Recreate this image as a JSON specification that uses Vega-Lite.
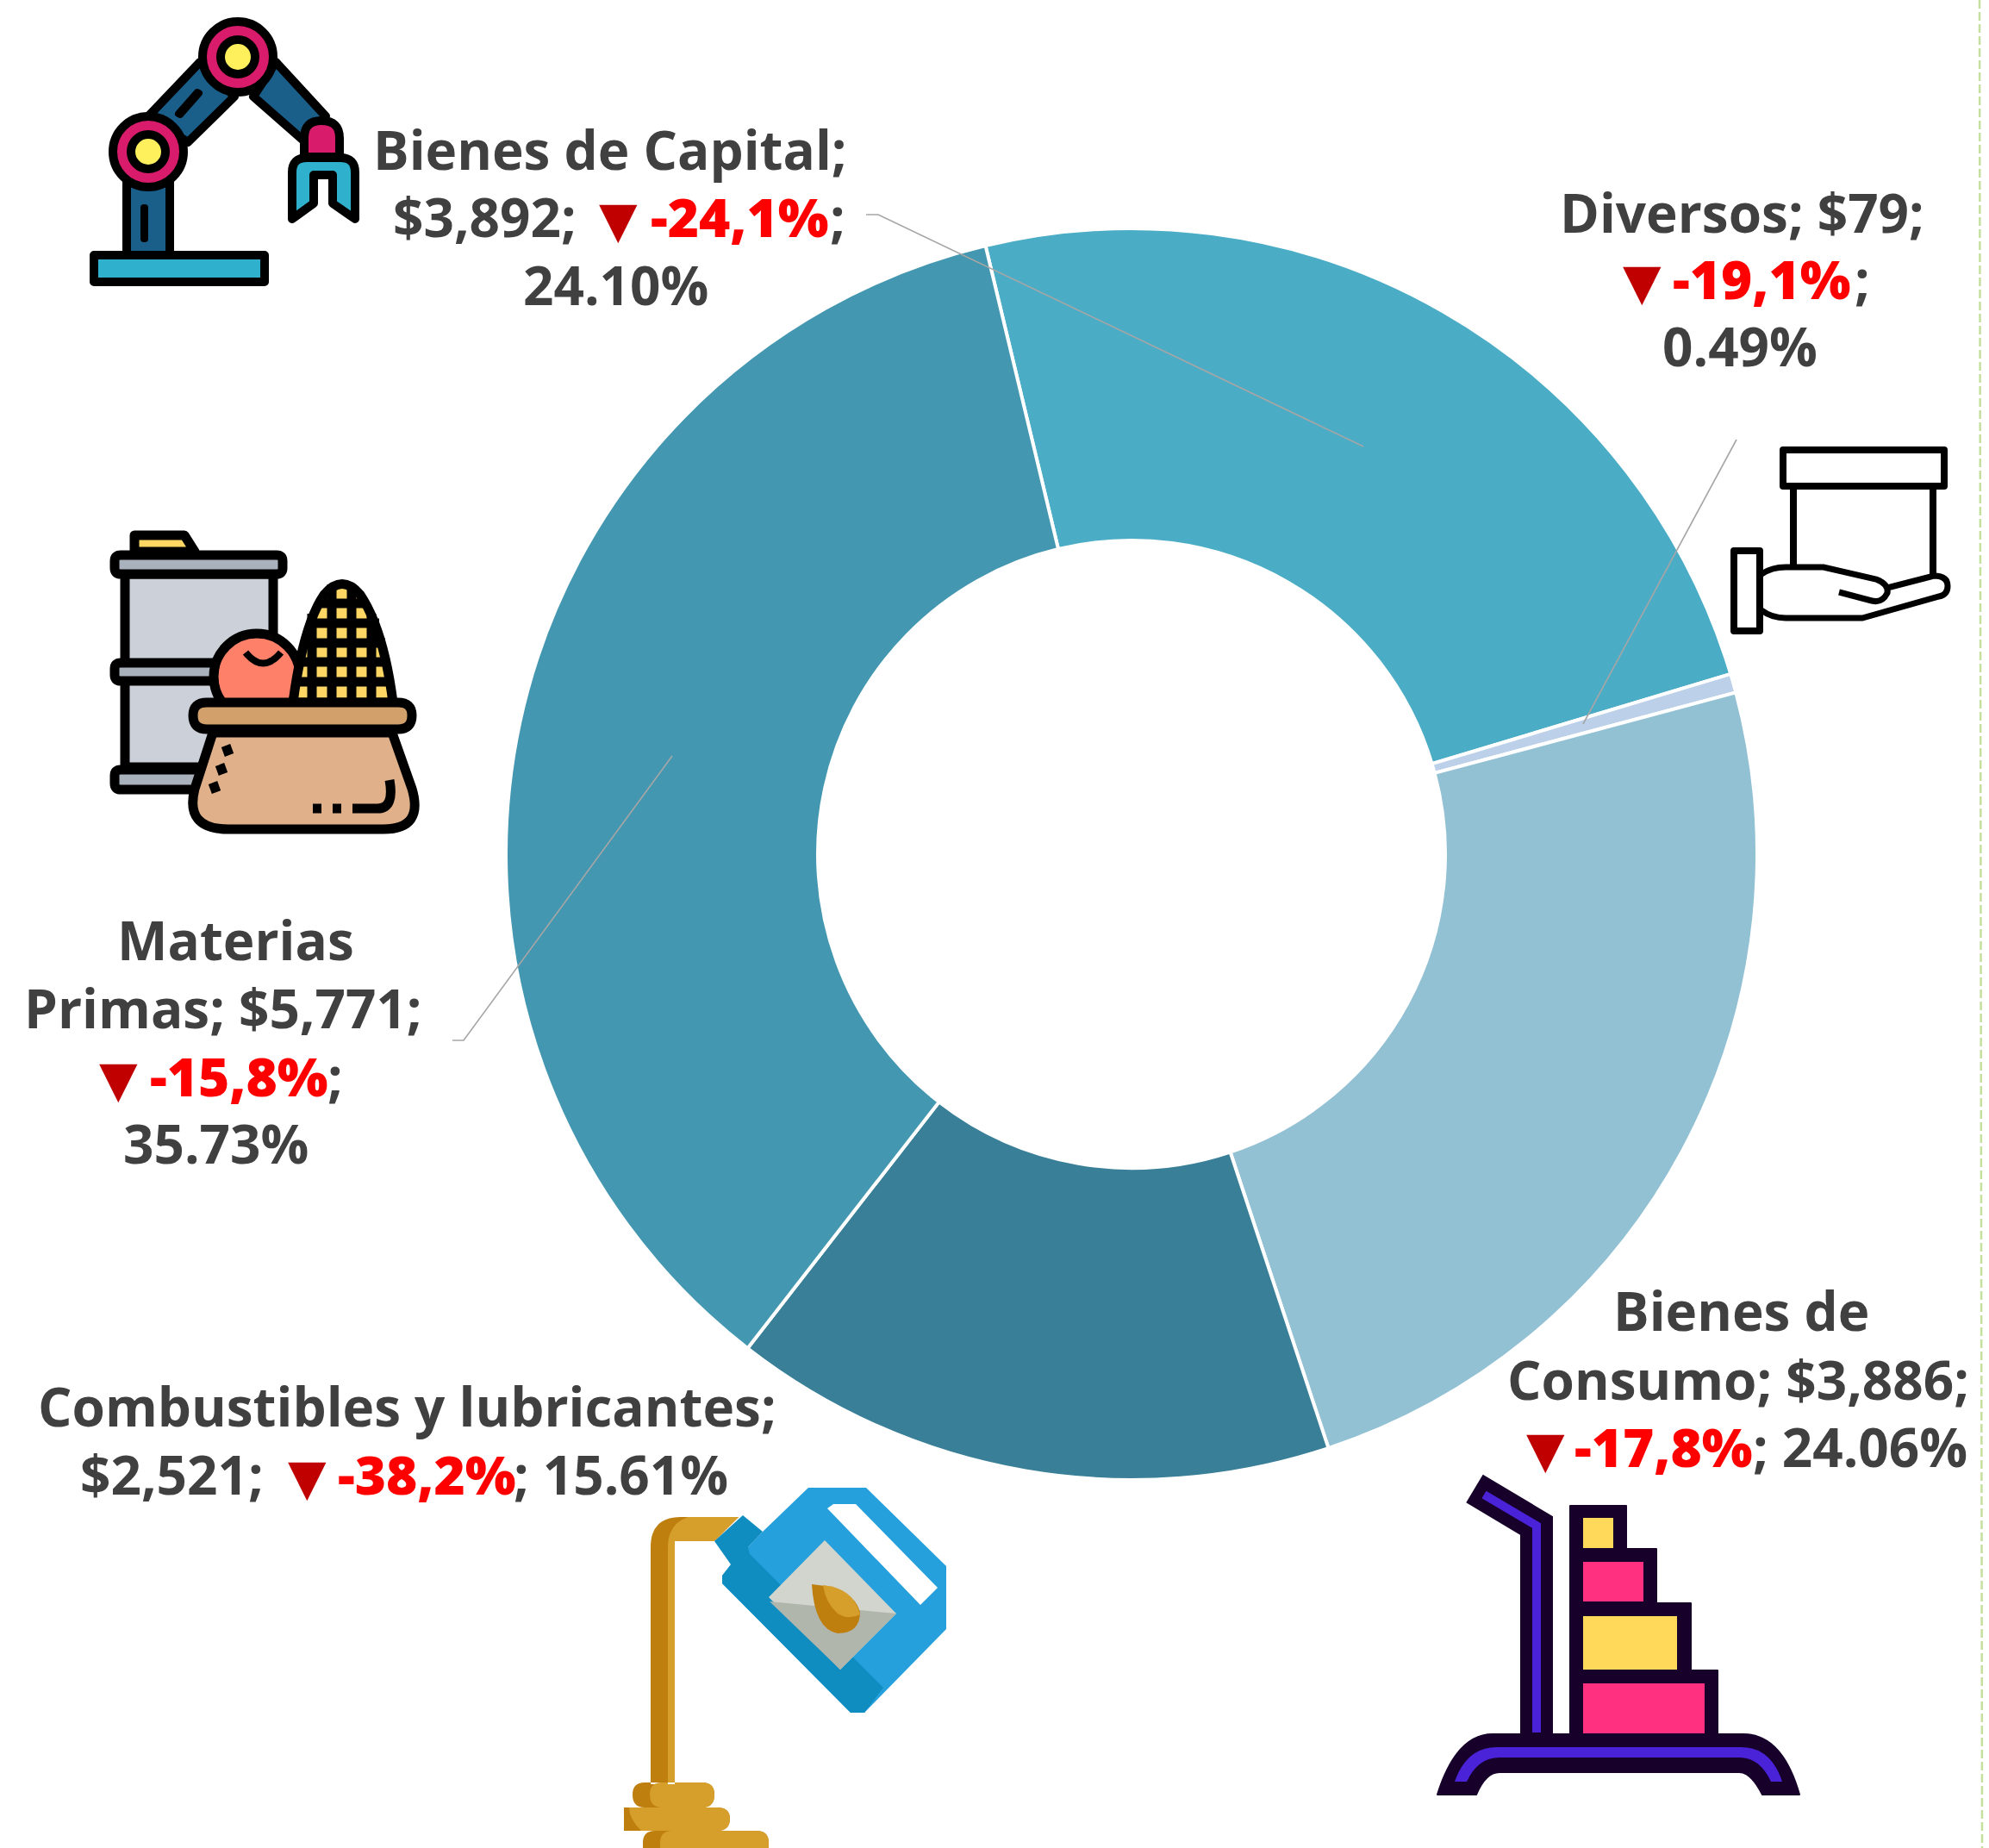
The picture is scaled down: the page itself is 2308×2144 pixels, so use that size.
{"$schema":"https://vega.github.io/schema/vega-lite/v6.json","width":1990,"height":1982,"autosize":{"type":"none"},"padding":{"left":318,"top":0,"right":0,"bottom":162},"background":"#ffffff","view":{"stroke":null},"config":{"text":{"font":"Open Sans","fontWeight":"bold","fontSize":62,"align":"left","baseline":"alphabetic","color":"#404040"}},
"datasets":{"comercio":[{"categoria":"Bienes de Capital","orden":1,"valor":3892,"variacion":"-24,1%","participacion":"24.10%"},{"categoria":"Diversos","orden":2,"valor":79,"variacion":"-19,1%","participacion":"0.49%"},{"categoria":"Bienes de Consumo","orden":3,"valor":3886,"variacion":"-17,8%","participacion":"24.06%"},{"categoria":"Combustibles y lubricantes","orden":4,"valor":2521,"variacion":"-38,2%","participacion":"15.61%"},{"categoria":"Materias Primas","orden":5,"valor":5771,"variacion":"-15,8%","participacion":"35.73%"}],
"guias":[{"etiqueta":"Bienes de Capital","paso":1,"gx":1005,"gy":249},{"etiqueta":"Bienes de Capital","paso":2,"gx":1019,"gy":249},{"etiqueta":"Bienes de Capital","paso":3,"gx":1582,"gy":518},{"etiqueta":"Diversos","paso":1,"gx":2015,"gy":510},{"etiqueta":"Diversos","paso":2,"gx":1837,"gy":840},{"etiqueta":"Materias Primas","paso":1,"gx":525,"gy":1207},{"etiqueta":"Materias Primas","paso":2,"gx":538,"gy":1207},{"etiqueta":"Materias Primas","paso":3,"gx":780,"gy":877}],
"borde":[{"paso":1,"gx":2297,"gy":0},{"paso":2,"gx":2300,"gy":2144}]},
"layer":[
{"data":{"name":"comercio"},"mark":{"type":"arc","innerRadius":364,"outerRadius":726,"stroke":"#ffffff","strokeWidth":4},"encoding":{"theta":{"field":"valor","type":"quantitative","stack":true,"scale":{"range":[-0.2356,6.0476]}},"order":{"field":"orden","type":"quantitative"},"color":{"field":"categoria","type":"nominal","legend":null,"scale":{"domain":["Bienes de Capital","Diversos","Bienes de Consumo","Combustibles y lubricantes","Materias Primas"],"range":["#4BACC6","#BDD0E9","#93C1D4","#387F97","#4497B0"]}}}},
{"data":{"name":"borde"},"mark":{"type":"line","color":"#C5DF9E","strokeWidth":2.5,"strokeDash":[10,4],"clip":false},"encoding":{"x":{"field":"gx","type":"quantitative","axis":null,"scale":{"domain":[318,2308],"nice":false,"zero":false}},"y":{"field":"gy","type":"quantitative","axis":null,"scale":{"domain":[1982,0],"nice":false,"zero":false}},"order":{"field":"paso","type":"quantitative"}}},
{"data":{"name":"guias"},"mark":{"type":"line","color":"#A6A6A6","strokeWidth":1.6},"encoding":{"x":{"field":"gx","type":"quantitative","axis":null,"scale":{"domain":[318,2308],"nice":false,"zero":false}},"y":{"field":"gy","type":"quantitative","axis":null,"scale":{"domain":[1982,0],"nice":false,"zero":false}},"detail":{"field":"etiqueta"},"order":{"field":"paso","type":"quantitative"}}},
{"data":{"values":[{"t":"Bienes de Capital;"}]},"mark":{"type":"text","dx":-880,"dy":-794},"encoding":{"text":{"field":"t"}}},
{"data":{"values":[{"t":"$3,892;"}]},"mark":{"type":"text","dx":-857,"dy":-716},"encoding":{"text":{"field":"t"}}},
{"data":{"values":[{"t":"▼"}]},"mark":{"type":"text","dx":-618,"dy":-716,"color":"#C00000","font":"DejaVu Sans","fontSize":58},"encoding":{"text":{"field":"t"}}},
{"data":{"values":[{"t":"-24,1%"}]},"mark":{"type":"text","dx":-558,"dy":-716,"color":"#FF0000","fontWeight":800},"encoding":{"text":{"field":"t"}}},
{"data":{"values":[{"t":";"}]},"mark":{"type":"text","dx":-350,"dy":-716},"encoding":{"text":{"field":"t"}}},
{"data":{"values":[{"t":"24.10%"}]},"mark":{"type":"text","dx":-706,"dy":-637},"encoding":{"text":{"field":"t"}}},
{"data":{"values":[{"t":"Diversos; $79;"}]},"mark":{"type":"text","dx":497,"dy":-721},"encoding":{"text":{"field":"t"}}},
{"data":{"values":[{"t":"▼"}]},"mark":{"type":"text","dx":570,"dy":-644,"color":"#C00000","font":"DejaVu Sans","fontSize":58},"encoding":{"text":{"field":"t"}}},
{"data":{"values":[{"t":"-19,1%"}]},"mark":{"type":"text","dx":628,"dy":-644,"color":"#FF0000","fontWeight":800},"encoding":{"text":{"field":"t"}}},
{"data":{"values":[{"t":";"}]},"mark":{"type":"text","dx":839,"dy":-644},"encoding":{"text":{"field":"t"}}},
{"data":{"values":[{"t":"0.49%"}]},"mark":{"type":"text","dx":616,"dy":-566},"encoding":{"text":{"field":"t"}}},
{"data":{"values":[{"t":"Materias"}]},"mark":{"type":"text","dx":-1177,"dy":123},"encoding":{"text":{"field":"t"}}},
{"data":{"values":[{"t":"Primas; $5,771;"}]},"mark":{"type":"text","dx":-1285,"dy":202},"encoding":{"text":{"field":"t"}}},
{"data":{"values":[{"t":"▼"}]},"mark":{"type":"text","dx":-1198,"dy":281,"color":"#C00000","font":"DejaVu Sans","fontSize":58},"encoding":{"text":{"field":"t"}}},
{"data":{"values":[{"t":"-15,8%"}]},"mark":{"type":"text","dx":-1139,"dy":281,"color":"#FF0000","fontWeight":800},"encoding":{"text":{"field":"t"}}},
{"data":{"values":[{"t":";"}]},"mark":{"type":"text","dx":-933,"dy":281},"encoding":{"text":{"field":"t"}}},
{"data":{"values":[{"t":"35.73%"}]},"mark":{"type":"text","dx":-1170,"dy":359},"encoding":{"text":{"field":"t"}}},
{"data":{"values":[{"t":"Combustibles y lubricantes;"}]},"mark":{"type":"text","dx":-1269,"dy":664},"encoding":{"text":{"field":"t"}}},
{"data":{"values":[{"t":"$2,521;"}]},"mark":{"type":"text","dx":-1220,"dy":743},"encoding":{"text":{"field":"t"}}},
{"data":{"values":[{"t":"▼"}]},"mark":{"type":"text","dx":-979,"dy":743,"color":"#C00000","font":"DejaVu Sans","fontSize":58},"encoding":{"text":{"field":"t"}}},
{"data":{"values":[{"t":"-38,2%"}]},"mark":{"type":"text","dx":-921,"dy":743,"color":"#FF0000","fontWeight":800},"encoding":{"text":{"field":"t"}}},
{"data":{"values":[{"t":"; 15.61%"}]},"mark":{"type":"text","dx":-717,"dy":743},"encoding":{"text":{"field":"t"}}},
{"data":{"values":[{"t":"Bienes de"}]},"mark":{"type":"text","dx":559,"dy":553},"encoding":{"text":{"field":"t"}}},
{"data":{"values":[{"t":"Consumo; $3,886;"}]},"mark":{"type":"text","dx":436,"dy":633},"encoding":{"text":{"field":"t"}}},
{"data":{"values":[{"t":"▼"}]},"mark":{"type":"text","dx":458,"dy":711,"color":"#C00000","font":"DejaVu Sans","fontSize":58},"encoding":{"text":{"field":"t"}}},
{"data":{"values":[{"t":"-17,8%"}]},"mark":{"type":"text","dx":514,"dy":711,"color":"#FF0000","fontWeight":800},"encoding":{"text":{"field":"t"}}},
{"data":{"values":[{"t":"; 24.06%"}]},"mark":{"type":"text","dx":721,"dy":711},"encoding":{"text":{"field":"t"}}},
{"data":{"values":[{"icono":"origen"}]},"encoding":{"x":{"datum":0,"type":"quantitative","axis":null,"scale":{"domain":[318,2308],"nice":false,"zero":false}},"y":{"datum":0,"type":"quantitative","axis":null,"scale":{"domain":[1982,0],"nice":false,"zero":false}}},"layer":[
{"mark":{"type":"point","size":4,"opacity":1,"filled":true,"fill":"#1A5E8A","stroke":"#000000","strokeWidth":10,"strokeJoin":"round","shape":"M172 135L232 72L272 112L218 165Z"}},
{"mark":{"type":"point","size":4,"opacity":1,"filled":true,"fill":"#1A5E8A","stroke":"#000000","strokeWidth":10,"strokeJoin":"round","shape":"M320 72L378 135L351 162L294 112Z"}},
{"mark":{"type":"point","size":4,"opacity":1,"filled":true,"fill":"#000000","stroke":"#000000","strokeWidth":8,"strokeJoin":"round","shape":"M207 132L229 107L231 108L209 133Z"}},
{"mark":{"type":"point","size":4,"opacity":1,"filled":true,"fill":"#1A5E8A","stroke":"#000000","strokeWidth":10,"strokeJoin":"round","shape":"M147 210L197 210L197 296L147 296Z"}},
{"mark":{"type":"point","size":4,"opacity":1,"filled":true,"fill":"#000000","stroke":"#000000","strokeWidth":8,"strokeJoin":"round","shape":"M167 241L168 241L168 277L167 277Z"}},
{"mark":{"type":"point","size":4,"opacity":1,"filled":true,"fill":"#2FB0CC","stroke":"#000000","strokeWidth":10,"strokeJoin":"round","shape":"M109 296L307 296L307 327L109 327Z"}},
{"mark":{"type":"point","size":4,"opacity":1,"filled":true,"fill":"#D81B6A","stroke":"#000000","strokeWidth":10,"shape":"M131 176A41 41 0 1 0 213 176A41 41 0 1 0 131 176Z"}},
{"mark":{"type":"point","size":4,"opacity":1,"filled":true,"fill":"#FDF05C","stroke":"#000000","strokeWidth":10,"shape":"M152 176A20 20 0 1 0 192 176A20 20 0 1 0 152 176Z"}},
{"mark":{"type":"point","size":4,"opacity":1,"filled":true,"fill":"#D81B6A","stroke":"#000000","strokeWidth":10,"shape":"M235 66A41 41 0 1 0 317 66A41 41 0 1 0 235 66Z"}},
{"mark":{"type":"point","size":4,"opacity":1,"filled":true,"fill":"#FDF05C","stroke":"#000000","strokeWidth":10,"shape":"M256 66A20 20 0 1 0 296 66A20 20 0 1 0 256 66Z"}},
{"mark":{"type":"point","size":4,"opacity":1,"filled":true,"fill":"#D81B6A","stroke":"#000000","strokeWidth":10,"strokeJoin":"round","shape":"M353 182L353 160Q353 140 373 140Q394 140 394 160L394 182Z"}},
{"mark":{"type":"point","size":4,"opacity":1,"filled":true,"fill":"#2FB0CC","stroke":"#000000","strokeWidth":10,"strokeJoin":"round","shape":"M339 254L339 200Q339 183 356 183L395 183Q412 183 412 200L412 254L386 236L386 203L364 203L364 236Z"}},
{"mark":{"type":"point","size":4,"opacity":1,"filled":true,"fill":"#FDD663","stroke":"#000000","strokeWidth":11,"strokeJoin":"round","shape":"M156 640L156 621L214 621L226 640Z"}},
{"mark":{"type":"point","size":4,"opacity":1,"filled":true,"fill":"#CBD0D9","stroke":"#000000","strokeWidth":11,"strokeJoin":"round","shape":"M145 666L317 666L317 890L145 890Z"}},
{"mark":{"type":"point","size":4,"opacity":1,"filled":true,"fill":"#A9B1BC","stroke":"#000000","strokeWidth":11,"strokeJoin":"round","shape":"M140 644L321 644Q328 644 328 651L328 659Q328 666 321 666L140 666Q133 666 133 659L133 651Q133 644 140 644Z"}},
{"mark":{"type":"point","size":4,"opacity":1,"filled":true,"fill":"#A9B1BC","stroke":"#000000","strokeWidth":11,"strokeJoin":"round","shape":"M140 769L300 769L300 790L140 790Q133 790 133 783L133 776Q133 769 140 769Z"}},
{"mark":{"type":"point","size":4,"opacity":1,"filled":true,"fill":"#A9B1BC","stroke":"#000000","strokeWidth":11,"strokeJoin":"round","shape":"M140 893L300 893L300 916L140 916Q133 916 133 909L133 900Q133 893 140 893Z"}},
{"mark":{"type":"point","size":4,"opacity":1,"filled":true,"fill":"#FF8069","stroke":"#000000","strokeWidth":11,"shape":"M248 785A50 50 0 1 0 348 785A50 50 0 1 0 248 785Z"}},
{"mark":{"type":"point","size":4,"opacity":1,"filled":false,"stroke":"#000000","strokeWidth":8,"shape":"M285 757Q305 782 326 757"}},
{"mark":{"type":"point","size":4,"opacity":1,"filled":true,"fill":"#FDD663","stroke":"#000000","strokeWidth":11,"strokeJoin":"round","shape":"M340 815Q352 725 376 690Q397 665 418 690Q445 730 456 815Z"}},
{"mark":{"type":"point","size":4,"opacity":1,"filled":false,"stroke":"#000000","strokeWidth":11,"shape":"M362 712L362 815M385 678L385 815M408 678L408 815M431 712L431 815M370 700L426 700M357 723L440 723M351 746L447 746M346 768L451 768M342 791L454 791"}},
{"mark":{"type":"point","size":4,"opacity":1,"filled":true,"fill":"#DFB089","stroke":"#000000","strokeWidth":11,"strokeJoin":"round","shape":"M247 850L226 915Q214 962 265 962L445 962Q492 962 478 915L455 850Z"}},
{"mark":{"type":"point","size":4,"opacity":1,"filled":true,"fill":"#D2A06B","stroke":"#000000","strokeWidth":11,"strokeJoin":"round","shape":"M240 815L462 815Q478 815 478 830Q478 846 462 846L240 846Q224 846 224 830Q224 815 240 815Z"}},
{"mark":{"type":"point","size":4,"opacity":1,"filled":false,"stroke":"#000000","strokeWidth":11,"shape":"M262 865L266 876M255 887L259 898M247 908L251 919M363 938L373 938M386 938L396 938M409 938L438 938Q458 938 452 905"}},
{"mark":{"type":"point","size":4,"opacity":1,"filled":true,"fill":"#FFFFFF","stroke":"#000000","strokeWidth":8,"strokeJoin":"round","shape":"M2069 522L2256 522L2256 564L2069 564Z"}},
{"mark":{"type":"point","size":4,"opacity":1,"filled":false,"stroke":"#000000","strokeWidth":8,"shape":"M2081 566L2081 655M2243 566L2243 668"}},
{"mark":{"type":"point","size":4,"opacity":1,"filled":true,"fill":"#FFFFFF","stroke":"#000000","strokeWidth":8,"strokeJoin":"round","shape":"M2012 639L2042 639L2042 732L2012 732Z"}},
{"mark":{"type":"point","size":4,"opacity":1,"filled":false,"stroke":"#000000","strokeWidth":7,"shape":"M2044 666Q2056 658 2072 658L2116 658L2177 672Q2192 678 2190 688Q2184 700 2172 697L2134 687M2190 682L2244 668Q2260 668 2260 680Q2260 690 2250 692L2161 717L2072 717Q2056 717 2044 708"}},
{"mark":{"type":"point","size":4,"opacity":1,"filled":false,"stroke":"#17012B","strokeWidth":38,"shape":"M1711 1727L1783 1770L1783 2015"}},
{"mark":{"type":"point","size":4,"opacity":1,"filled":false,"stroke":"#4A22D8","strokeWidth":10,"shape":"M1722 1734L1783 1770L1783 2010"}},
{"mark":{"type":"point","size":4,"opacity":1,"filled":true,"fill":"#17012B","stroke":"#17012B","strokeWidth":2,"strokeJoin":"round","shape":"M1822 1747L1887 1747L1887 1797L1922 1797L1922 1860L1962 1860L1962 1938L1993 1938L1993 2020L1822 2020Z"}},
{"mark":{"type":"point","size":4,"opacity":1,"filled":true,"fill":"#FFD95A","strokeWidth":0,"shape":"M1837 1761L1872 1761L1872 1796L1837 1796ZM1837 1875L1946 1875L1946 1937L1837 1937Z"}},
{"mark":{"type":"point","size":4,"opacity":1,"filled":true,"fill":"#FF3080","strokeWidth":0,"shape":"M1837 1812L1907 1812L1907 1858L1837 1858ZM1837 1953L1978 1953L1978 2011L1837 2011Z"}},
{"mark":{"type":"point","size":4,"opacity":1,"filled":true,"fill":"#17012B","stroke":"#17012B","strokeWidth":2,"strokeJoin":"round","shape":"M1668 2082Q1690 2012 1732 2012L2023 2012Q2068 2012 2088 2082L2045 2082Q2032 2056 2018 2056L1740 2056Q1724 2056 1713 2082Z"}},
{"mark":{"type":"point","size":4,"opacity":1,"filled":true,"fill":"#4A22D8","strokeWidth":0,"shape":"M1688 2067Q1702 2027 1737 2027L2020 2027Q2055 2027 2068 2067L2055 2067Q2042 2039 2018 2039L1740 2039Q1715 2039 1702 2067Z"}},
{"mark":{"type":"point","size":4,"opacity":1,"filled":true,"fill":"#BE7F0F","strokeWidth":0,"shape":"M783 2070L783 1788L829 1788L857 1760L790 1760Q755 1760 755 1795L755 2070ZM748 2068L815 2068Q829 2068 829 2082Q829 2097 815 2097L748 2097Q734 2097 734 2082Q734 2068 748 2068ZM724 2097L832 2097Q847 2097 847 2110Q847 2124 832 2124L724 2124ZM760 2124L878 2124Q892 2124 892 2138L892 2144L746 2144L746 2138Q746 2124 760 2124Z"}},
{"mark":{"type":"point","size":4,"opacity":1,"filled":true,"fill":"#D69E2A","strokeWidth":0,"shape":"M783 2070L783 1788L829 1788L857 1760L798 1760Q775 1768 775 1795L775 2070ZM768 2068L815 2068Q829 2068 829 2082Q829 2097 815 2097L768 2097Q754 2097 754 2082Q754 2068 768 2068ZM730 2097L832 2097Q847 2097 847 2110Q847 2124 832 2124L744 2124Q730 2110 730 2097ZM780 2124L878 2124Q892 2124 892 2138L892 2144L766 2144L766 2138Q766 2124 780 2124Z"}},
{"mark":{"type":"point","size":4,"opacity":1,"filled":true,"fill":"#26A0DC","strokeWidth":0,"shape":"M938 1726L1005 1726L1098 1817L1098 1890L1003 1987L987 1987L838 1837L838 1828L849 1815L885 1777Z"}},
{"mark":{"type":"point","size":4,"opacity":1,"filled":true,"fill":"#0F8CC0","strokeWidth":0,"shape":"M862 1758L885 1777L868 1795L870 1803L1025 1958L1003 1987L987 1987L838 1837L838 1828L848 1815L829 1788Z"}},
{"mark":{"type":"point","size":4,"opacity":1,"filled":true,"fill":"#FFFFFF","strokeWidth":0,"shape":"M960 1750L967 1745L993 1745L1088 1842L1068 1862Z"}},
{"mark":{"type":"point","size":4,"opacity":1,"filled":true,"fill":"#D1D5CE","strokeWidth":0,"shape":"M957 1787L1040 1872L975 1937L892 1853Z"}},
{"mark":{"type":"point","size":4,"opacity":1,"filled":true,"fill":"#B0B6AC","strokeWidth":0,"shape":"M893 1858L1040 1872L975 1937Z"}},
{"mark":{"type":"point","size":4,"opacity":1,"filled":true,"fill":"#BE7F0F","strokeWidth":0,"shape":"M942 1838Q990 1842 998 1870Q998 1895 972 1895Q945 1890 942 1838Z"}},
{"mark":{"type":"point","size":4,"opacity":1,"filled":true,"fill":"#D69E2A","strokeWidth":0,"shape":"M955 1839Q990 1842 998 1873Q985 1880 972 1872Q958 1860 955 1839Z"}}
]}
]}
